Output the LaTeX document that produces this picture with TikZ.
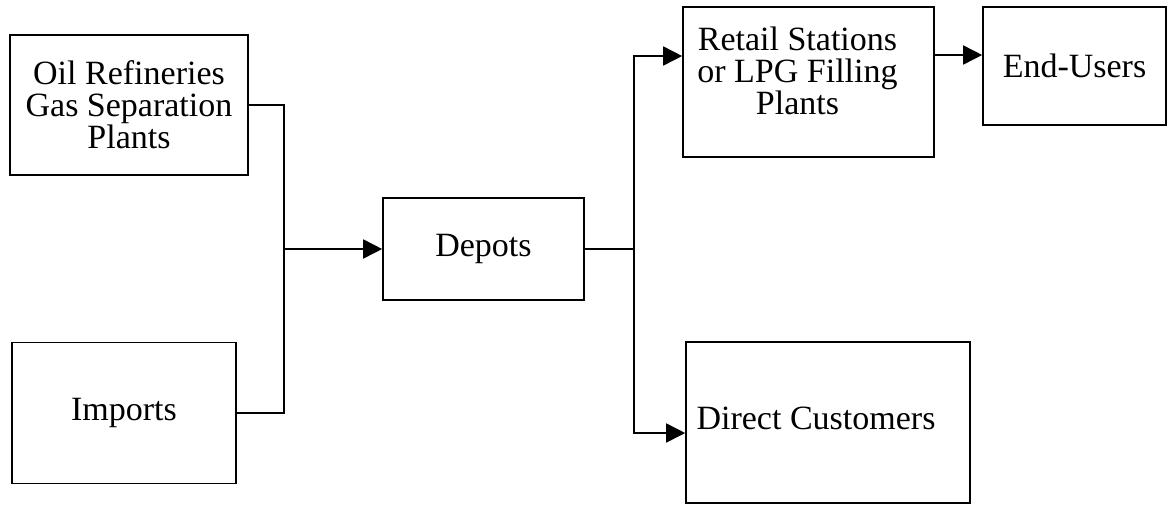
\documentclass[tikz,border=0pt]{standalone}
\usepackage{fontspec}
\setmainfont{Liberation Serif}
\usetikzlibrary{arrows.meta}
\begin{document}
\begin{tikzpicture}[x=1pt,y=-1pt,
  box/.style={draw=black,line width=1.6pt,inner sep=0pt,align=center,
    font=\fontsize{34}{32}\selectfont},
  lbl/.style={align=center,inner sep=0pt,font=\fontsize{34}{32}\selectfont},
  conn/.style={draw=black,line width=1.6pt},
  arr/.style={conn,-{Triangle[length=19pt,width=19pt]}}]
\useasboundingbox (0,0) rectangle (1167,504);
\node[box,minimum width=238pt,minimum height=140pt] (oil) at (129,105)
  {Oil Refineries\\Gas Separation\\Plants};
\node[box,minimum width=224pt,minimum height=141pt] (imp) at (124,413) {Imports};
\node[box,minimum width=201pt,minimum height=102pt] (dep) at (483.5,249) {Depots};
\node[box,minimum width=251pt,minimum height=150pt,
  label={[lbl,xshift=-11pt,yshift=11pt]center:Retail Stations\\or LPG Filling\\Plants}] (ret) at (808.5,82) {};
\node[box,minimum width=183pt,minimum height=118pt] (end) at (1074.5,66) {End-Users};
\node[box,minimum width=284pt,minimum height=161pt,
  label={[lbl,xshift=-12pt,yshift=4pt]center:Direct Customers}] (dir) at (828,422.5) {};
\coordinate (jl) at (284,249);
\coordinate (jr) at (634,249);
\draw[conn] (oil.east) -| (jl) |- (imp.east);
\draw[arr] (jl) -- (dep.west);
\draw[conn] (dep.east) -- (jr);
\draw[arr] (jr) |- ([yshift=26pt]ret.west);
\draw[arr] (jr) |- ([yshift=-10.5pt]dir.west);
\draw[arr] ([yshift=27pt]ret.east) -- ([yshift=11pt]end.west);
\end{tikzpicture}
\end{document}
